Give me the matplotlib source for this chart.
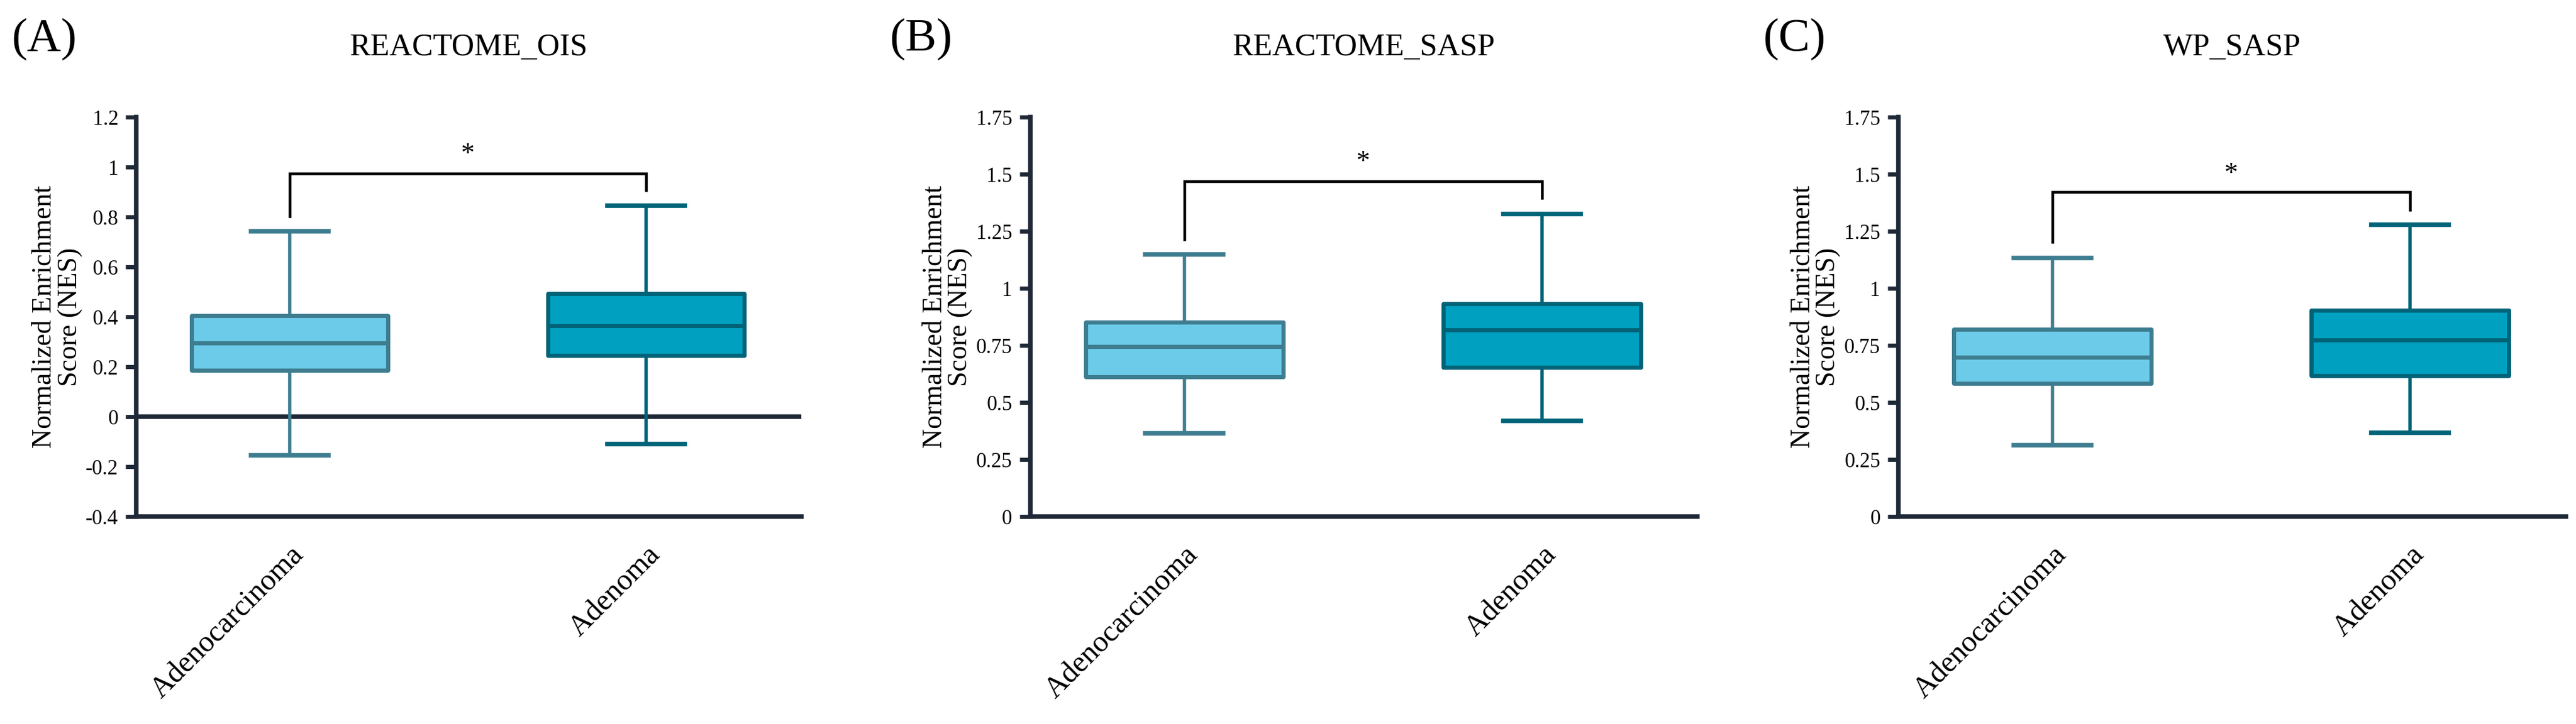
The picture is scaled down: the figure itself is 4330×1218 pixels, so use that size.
import numpy as np
import matplotlib
matplotlib.use("Agg")
import matplotlib.pyplot as plt
import matplotlib.transforms as mtransforms

plt.rcParams['font.family'] = ['Liberation Serif', 'DejaVu Serif']

# groups shown in every panel
groups = ['Adenocarcinoma', 'Adenoma']
panel_letters = ['(A)', '(B)', '(C)']
titles = ['REACTOME_OIS', 'REACTOME_SASP', 'WP_SASP']

# box stats per panel: [whislo, q1, med, q3, whishi] for each group
ois_stats = [[-0.155, 0.185, 0.296, 0.405, 0.744],
             [-0.109, 0.246, 0.365, 0.494, 0.846]]
reactome_sasp_stats = [[0.364, 0.613, 0.746, 0.852, 1.15],
                       [0.419, 0.653, 0.819, 0.933, 1.327]]
wp_sasp_stats = [[0.314, 0.583, 0.698, 0.82, 1.134],
                 [0.368, 0.617, 0.775, 0.903, 1.279]]

# y ranges / ticks per panel
ylims = [(-0.4, 1.2), (0, 1.75), (0, 1.75)]
yticks = [[-0.4, -0.2, 0, 0.2, 0.4, 0.6, 0.8, 1.0, 1.2],
          [0, 0.25, 0.5, 0.75, 1.0, 1.25, 1.5, 1.75],
          [0, 0.25, 0.5, 0.75, 1.0, 1.25, 1.5, 1.75]]
ytick_labels = [['-0.4', '-0.2', '0', '0.2', '0.4', '0.6', '0.8', '1', '1.2'],
                ['0', '0.25', '0.5', '0.75', '1', '1.25', '1.5', '1.75'],
                ['0', '0.25', '0.5', '0.75', '1', '1.25', '1.5', '1.75']]

# significance bracket: left foot, top, right foot, star height
brackets = [(0.804, 0.975, 0.908, 1.05),
            (1.214, 1.469, 1.396, 1.55),
            (1.204, 1.422, 1.345, 1.50)]

fills = ['#6ccbe8', '#00a0c0']
edges = ['#3e7d90', '#006378']
axis_col = '#1e2836'

fig = plt.figure(figsize=(43.3, 12.18), dpi=100)
lefts = [0.053, 0.400, 0.737]
rights = [0.311, 0.659, 0.996]
letter_x = [0.0046, 0.3453, 0.6843]
bottom, top = 0.2865, 0.838

all_stats = [ois_stats, reactome_sasp_stats, wp_sasp_stats]
for i in range(3):
    ax = fig.add_axes([lefts[i], bottom, rights[i] - lefts[i], top - bottom])
    for j, s in enumerate(all_stats[i]):
        st = [dict(whislo=s[0], q1=s[1], med=s[2], q3=s[3], whishi=s[4], fliers=[])]
        ax.bxp(st, positions=[j], widths=0.552, patch_artist=True, showfliers=False,
               boxprops=dict(facecolor=fills[j], edgecolor=edges[j], linewidth=5,
                             joinstyle='round'),
               medianprops=dict(color=edges[j], linewidth=5, solid_capstyle='butt'),
               whiskerprops=dict(color=edges[j], linewidth=4),
               capprops=dict(color=edges[j], linewidth=5.5),
               capwidths=0.217)
    ax.set_xlim(-0.43, 1.435)
    ax.set_ylim(*ylims[i])
    ax.set_yticks(yticks[i])
    ax.set_yticklabels(ytick_labels[i])
    ax.set_xticks([0, 1])
    ax.set_xticklabels(groups, rotation=45, ha='right', va='top',
                       rotation_mode='anchor')
    shift = mtransforms.ScaledTranslation(0.2, 0, fig.dpi_scale_trans)
    for lab in ax.get_xticklabels():
        lab.set_transform(lab.get_transform() + shift)
    for sp in ['top', 'right']:
        ax.spines[sp].set_visible(False)
    for sp in ['left', 'bottom']:
        ax.spines[sp].set_color(axis_col)
        ax.spines[sp].set_linewidth(5.5)
    ax.tick_params(axis='y', colors=axis_col, width=5, length=13, labelsize=25,
                   labelcolor='black', pad=9)
    ax.tick_params(axis='x', length=0, labelsize=36, labelcolor='black', pad=30)
    if ylims[i][0] < 0:
        ax.axhline(0, color=axis_col, linewidth=5.5, zorder=0)
    ax.set_ylabel('Normalized Enrichment\nScore (NES)', fontsize=33, labelpad=4,
                  linespacing=1.0)
    # bracket
    lf, bt, rf, sy = brackets[i]
    ax.plot([0, 0, 1, 1], [lf, bt, bt, rf], color='black', linewidth=3.3,
            solid_joinstyle='miter')
    ax.text(0.5, sy, '*', ha='center', va='center', fontsize=33)
    ax.set_title(titles[i], fontsize=38, pad=75)
    fig.text(letter_x[i], 0.975, panel_letters[i], fontsize=57, va='top', ha='left')

fig.savefig('out.png', dpi=100)
